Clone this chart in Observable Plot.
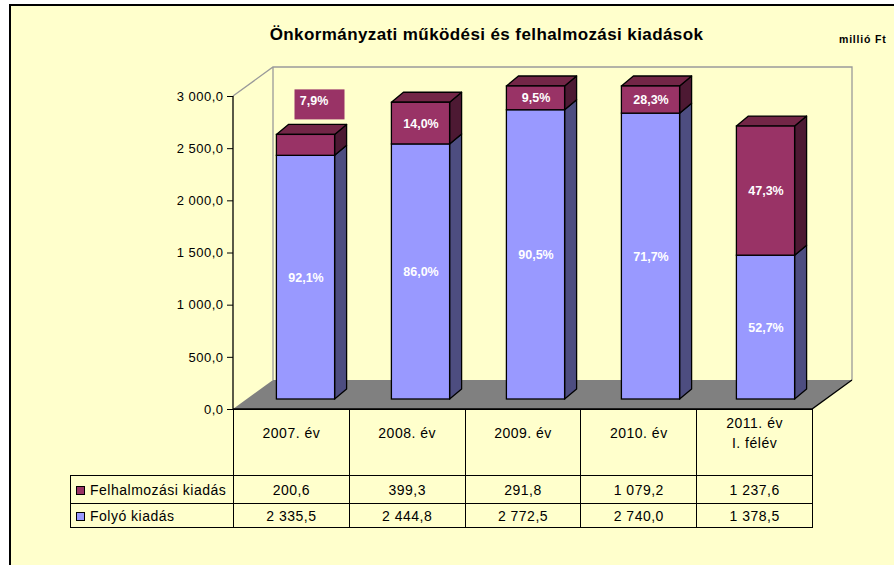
<!DOCTYPE html>
<html>
<head>
<meta charset="utf-8">
<script src="https://cdn.jsdelivr.net/npm/d3@7"></script>
<script src="https://cdn.jsdelivr.net/npm/@observablehq/plot@0.6"></script>
<style>
  html, body { margin: 0; padding: 0; background: #fff; }
  body { width: 894px; height: 565px; overflow: hidden; position: relative; font-family: "Liberation Sans", Arial, sans-serif; }
  #frame { position: absolute; left: 9px; top: 4px; width: 900px; height: 580px; background: #FFFFCC; border-left: 2px solid #000; border-top: 2px solid #000; }
  #title { position: absolute; left: 0; width: 973px; top: 26px; text-align: center; font-weight: bold; font-size: 17px; line-height: 17px; letter-spacing: 0.4px; color: #000; white-space: nowrap; }
  #unit { position: absolute; left: 839px; top: 33px; font-weight: bold; font-size: 10.5px; line-height: 12px; letter-spacing: 0.8px; color: #000; white-space: nowrap; }
  #chart { position: absolute; left: 0; top: 0; }
  #chart g[aria-label^="y-axis"] text { letter-spacing: 0.5px; }
  #table { position: absolute; left: 70px; top: 409px; border-collapse: collapse; table-layout: fixed; font-size: 14px; letter-spacing: 0.5px; color: #000; }
  #table td { padding: 0; text-align: center; border: 1px solid #000; white-space: pre-line; overflow: hidden; }
  #table td.blank { border: none; }
  #table tr.head td { vertical-align: middle; padding-bottom: 20px; line-height: 20px; }
  #table td.lab { text-align: left; padding-left: 5px; }
  .key { display: inline-block; width: 7px; height: 7px; border: 1px solid #000; margin-right: 5px; vertical-align: 0px; }
</style>
</head>
<body>
<div id="frame"></div>
<div id="title"></div>
<div id="unit"></div>
<div id="chart"></div>
<script>
// ---- data ----
const title = "Önkormányzati működési és felhalmozási kiadások";
const unit = "millió Ft";
const categories = ["2007. év", "2008. év", "2009. év", "2010. év", "2011. év\nI. félév"];
const felhalmozasi = [200.6, 399.3, 291.8, 1079.2, 1237.6];   // Felhalmozási kiadás
const folyo = [2335.5, 2444.8, 2772.5, 2740.0, 1378.5];       // Folyó kiadás
const seriesNames = ["Felhalmozási kiadás", "Folyó kiadás"];
const yTicks = [0, 500, 1000, 1500, 2000, 2500, 3000];
const yMax = 3000;

// ---- styles ----
const COL = {
  blue: "#9999FF", blueSide: "#4D4D80", blueTop: "#7A7ACC",
  purple: "#993366", purpleSide: "#4D1933", purpleTop: "#732647"
};
const FLOOR_DX = 40, FLOOR_DY = -29;   // depth of the 3D box
const BAR_DX = 13, BAR_DY = -10;       // front face of the bars in depth
const SIDE_DX = 12, SIDE_DY = -10;     // bar depth
const INSET = 28.4;                    // bar inset inside its band

const loc = d3.formatLocale({decimal: ",", thousands: "\u00a0", grouping: [3], currency: ["", ""]});
const fmtNum = loc.format(",.1f");
const fmtPct = v => loc.format(".1f")(v * 100) + "%";

// ---- derived stacks ----
const rows = categories.flatMap((c, i) => {
  const a = folyo[i], b = felhalmozasi[i], tot = a + b;
  return [
    {cat: c, s: seriesNames[1], y1: 0, y2: a, share: a / tot, fill: COL.blue, side: COL.blueSide, top: COL.blueTop, isTop: false},
    {cat: c, s: seriesNames[0], y1: a, y2: a + b, share: b / tot, fill: COL.purple, side: COL.purpleSide, top: COL.purpleTop, isTop: true}
  ];
});
rows.forEach(r => {
  const lo = Math.min(r.y1, yMax), hi = Math.min(r.y2, yMax);
  r.mid = (lo + hi) / 2; r.topV = hi; r.outside = (hi - lo) < 220;
});

document.getElementById("title").textContent = title;
document.getElementById("unit").textContent = unit;

// floor and walls of the 3D box
function scene(index, {x, y}) {
  const [xa, xb] = x.range();
  const y0 = y(0), yT = y(yMax);
  const g = d3.create("svg:g");
  g.append("path")
    .attr("d", `M${xa},${y0}L${xb},${y0}L${xb + FLOOR_DX},${y0 + FLOOR_DY}L${xa + FLOOR_DX},${y0 + FLOOR_DY}Z`)
    .attr("fill", "#808080");
  g.append("path")
    .attr("d", `M${xa},${yT}L${xa + FLOOR_DX},${yT + FLOOR_DY}L${xb + FLOOR_DX},${yT + FLOOR_DY}L${xb + FLOOR_DX},${y0 + FLOOR_DY}M${xa + FLOOR_DX},${yT + FLOOR_DY}L${xa + FLOOR_DX},${y0 + FLOOR_DY}`)
    .attr("fill", "none").attr("stroke", "#9a9a9a").attr("stroke-width", 1.3);
  g.append("path")
    .attr("d", `M${xa},${y0}L${xb},${y0}L${xb + FLOOR_DX},${y0 + FLOOR_DY}`)
    .attr("fill", "none").attr("stroke", "#000").attr("stroke-width", 1.3);
  return g.node();
}

// side and top faces of the bars
function faces(index, {x, y}) {
  const g = d3.create("svg:g").attr("stroke", "#000").attr("stroke-width", 1.3).attr("stroke-linejoin", "round");
  const bw = x.bandwidth();
  for (const r of rows) {
    const xl = x(r.cat) + INSET + BAR_DX, xr = x(r.cat) + bw - INSET + BAR_DX;
    const ya = y(r.y1) + BAR_DY, yb = y(r.y2) + BAR_DY;
    g.append("path")
      .attr("d", `M${xr},${yb}L${xr + SIDE_DX},${yb + SIDE_DY}L${xr + SIDE_DX},${ya + SIDE_DY}L${xr},${ya}Z`)
      .attr("fill", r.side);
    if (r.isTop) {
      g.append("path")
        .attr("d", `M${xl},${yb}L${xl + SIDE_DX},${yb + SIDE_DY}L${xr + SIDE_DX},${yb + SIDE_DY}L${xr},${yb}Z`)
        .attr("fill", r.top);
    }
  }
  return g.node();
}

// box behind labels moved above a too-short segment
function labelBoxes(index, {x, y}) {
  const g = d3.create("svg:g");
  const bw = x.bandwidth();
  for (const r of rows.filter(d => d.outside)) {
    const cx = x(r.cat) + bw / 2 + 27, cy = y(r.topV) - 40;
    g.append("rect").attr("x", cx - 25).attr("y", cy - 15).attr("width", 50).attr("height", 30).attr("fill", COL.purple);
  }
  return g.node();
}

function axisLine(index, {x, y}) {
  const [xa] = x.range();
  return d3.create("svg:line")
    .attr("x1", xa).attr("x2", xa).attr("y1", y(yMax)).attr("y2", y(0))
    .attr("stroke", "#000").attr("stroke-width", 1.3).node();
}

const plot = Plot.plot({
  width: 894, height: 565,
  marginLeft: 233, marginRight: 82, marginTop: 96, marginBottom: 156,
  style: {background: "transparent", fontFamily: "'Liberation Sans', Arial, sans-serif", fontSize: "13px", color: "#000", overflow: "visible"},
  x: {domain: categories, padding: 0, axis: null},
  y: {domain: [0, yMax], clamp: true, ticks: yTicks, tickFormat: d => fmtNum(d), tickSize: 6, tickPadding: 4, label: null},
  marks: [
    scene,
    faces,
    Plot.barY(rows.filter(r => !r.isTop), {x: "cat", y1: "y1", y2: "y2", fill: COL.blue, stroke: "#000", strokeWidth: 1.3, insetLeft: INSET, insetRight: INSET, dx: BAR_DX, dy: BAR_DY}),
    Plot.barY(rows.filter(r => r.isTop), {x: "cat", y1: "y1", y2: "y2", fill: COL.purple, stroke: "#000", strokeWidth: 1.3, insetLeft: INSET, insetRight: INSET, dx: BAR_DX, dy: BAR_DY}),
    labelBoxes,
    Plot.text(rows.filter(r => !r.outside), {x: "cat", y: "mid", text: r => fmtPct(r.share), fill: "#fff", fontWeight: "bold", fontSize: 12.5, dx: BAR_DX, dy: BAR_DY}),
    Plot.text(rows.filter(r => r.outside), {x: "cat", y: "topV", text: r => fmtPct(r.share), fill: "#fff", fontWeight: "bold", fontSize: 12.5, dx: 21, dy: -44}),
    axisLine
  ]
});
document.getElementById("chart").appendChild(plot);

// ---- data table below the chart, columns aligned to the x scale ----
const xs = plot.scale("x");
const [ra, rb] = xs.range;
const step = (rb - ra) / categories.length;
const tableLeft = 70;
const table = d3.select("body").append("table").attr("id", "table").style("width", (rb - tableLeft) + "px");
const cg = table.append("colgroup");
cg.append("col").style("width", (ra - tableLeft) + "px");
categories.forEach(() => cg.append("col").style("width", step + "px"));
const head = table.append("tr").attr("class", "head").style("height", "66px");
head.append("td").attr("class", "blank");
categories.forEach(c => head.append("td").text(c));
const series = [
  {name: seriesNames[0], color: COL.purple, vals: felhalmozasi, h: 28},
  {name: seriesNames[1], color: COL.blue, vals: folyo, h: 24}
];
for (const s of series) {
  const tr = table.append("tr").style("height", s.h + "px");
  const td = tr.append("td").attr("class", "lab");
  td.append("span").attr("class", "key").style("background", s.color);
  td.append("span").text(s.name);
  s.vals.forEach(v => tr.append("td").text(fmtNum(v)));
}
</script>
</body>
</html>
